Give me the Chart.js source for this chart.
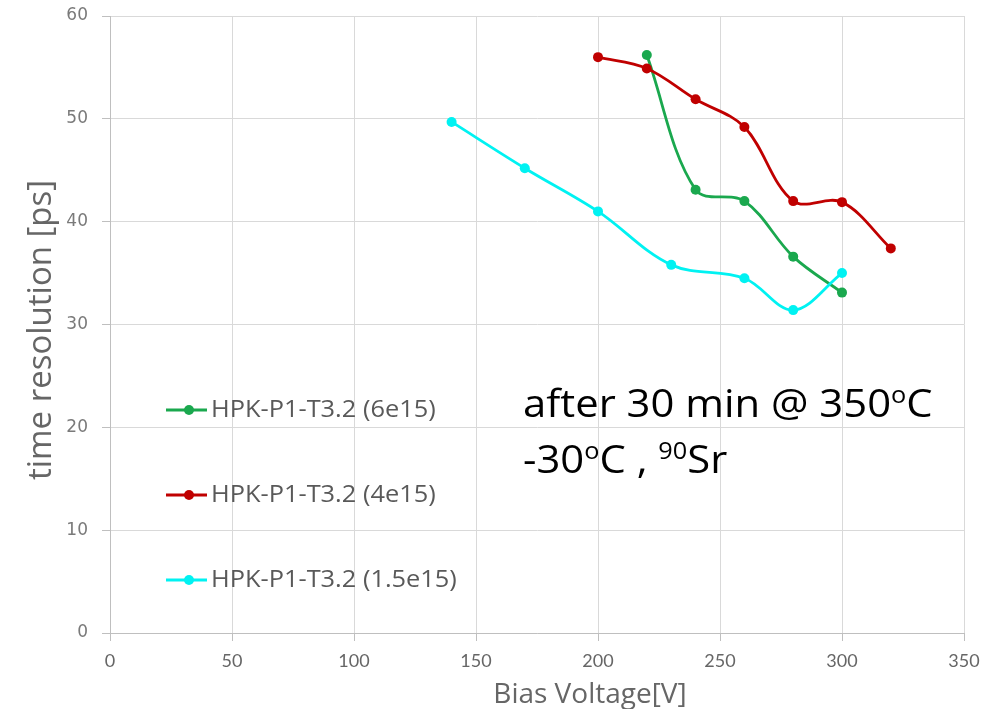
<!DOCTYPE html>
<html>
<head>
<meta charset="utf-8">
<script src="https://cdn.jsdelivr.net/npm/chart.js@4.4.1/dist/chart.umd.min.js"></script>
<style>
  html, body { margin: 0; padding: 0; background: #ffffff; }
</style>
</head>
<body>
<canvas id="chart" width="991" height="709"></canvas>
<script>
// Bias voltage [V] and time resolution [ps] per fluence
const bias6e15 = [220, 240, 260, 280, 300];
const res6e15 = [56.2, 43.1, 42.0, 36.6, 33.1];

const bias4e15 = [200, 220, 240, 260, 280, 300, 320];
const res4e15 = [56.0, 54.9, 51.9, 49.2, 42.0, 41.9, 37.4];

const bias15e14 = [140, 170, 200, 230, 260, 280, 300];
const res15e14 = [49.7, 45.2, 41.0, 35.8, 34.5, 31.4, 35.0];

const seriesNames = ['HPK-P1-T3.2 (6e15)', 'HPK-P1-T3.2 (4e15)', 'HPK-P1-T3.2 (1.5e15)'];
const seriesColors = ['#1aa84e', '#c00000', '#00f2f2'];

const xMin = 0, xMax = 350, xStep = 50;
const yMin = 0, yMax = 60, yStep = 10;

const xTitle = 'Bias Voltage[V]';
const yTitle = 'time resolution [ps]';

const toPoints = (xs, ys) => xs.map((x, i) => ({ x: x, y: ys[i] }));

function makeSet(i, xs, ys, order) {
  return {
    label: seriesNames[i],
    data: toPoints(xs, ys),
    borderColor: seriesColors[i],
    backgroundColor: seriesColors[i],
    borderWidth: 2.8,
    pointRadius: 5,
    pointHoverRadius: 5,
    pointBorderWidth: 0,
    tension: 0.35,
    order: order
  };
}

// text with superscript pieces, e.g. degree "o" and isotope mass number;
// drawn slightly widened horizontally
function drawRich(ctx, parts, x, y, size, family, stretch) {
  ctx.save();
  ctx.translate(x, y);
  ctx.scale(stretch, 1);
  let cx = 0;
  parts.forEach(p => {
    if (p.sup) {
      ctx.font = Math.round(size * 0.6) + 'px ' + family;
      ctx.fillText(p.t, cx, -size * 0.36);
    } else {
      ctx.font = size + 'px ' + family;
      ctx.fillText(p.t, cx, 0);
    }
    cx += ctx.measureText(p.t).width;
  });
  ctx.restore();
}

const overlay = {
  id: 'overlay',
  afterDraw(chart) {
    const ctx = chart.ctx;
    ctx.save();

    // axis titles
    ctx.fillStyle = '#666666';
    ctx.textAlign = 'center';
    ctx.textBaseline = 'alphabetic';
    ctx.font = '28px "Open Sans"';
    ctx.fillText(xTitle, 590, 703);

    ctx.save();
    ctx.translate(51, 330);
    ctx.rotate(-Math.PI / 2);
    ctx.font = '33px "Open Sans"';
    ctx.fillText(yTitle, 0, 0);
    ctx.restore();

    // legend inside the plot
    const legendY = [410, 495, 580];
    ctx.textAlign = 'left';
    ctx.textBaseline = 'middle';
    chart.data.datasets.forEach((ds, i) => {
      const y = legendY[i];
      ctx.strokeStyle = ds.borderColor;
      ctx.lineWidth = 2.8;
      ctx.beginPath();
      ctx.moveTo(166, y);
      ctx.lineTo(207, y);
      ctx.stroke();
      ctx.fillStyle = ds.borderColor;
      ctx.beginPath();
      ctx.arc(189, y, 5, 0, Math.PI * 2);
      ctx.fill();
      ctx.save();
      ctx.translate(211, y);
      ctx.scale(1.08, 1);
      ctx.fillStyle = '#595959';
      ctx.font = '23.5px "Open Sans"';
      ctx.fillText(ds.label, 0, 0);
      ctx.restore();
    });

    // measurement conditions
    ctx.fillStyle = '#000000';
    ctx.textBaseline = 'alphabetic';
    drawRich(ctx, [{ t: 'after 30 min @ 350' }, { t: 'o', sup: true }, { t: 'C' }], 523, 417, 38, '"Open Sans"', 1.1);
    drawRich(ctx, [{ t: '-30' }, { t: 'o', sup: true }, { t: 'C , ' }, { t: '90', sup: true }, { t: 'Sr' }], 523, 473, 38, '"Open Sans"', 1.1);

    ctx.restore();
  }
};

new Chart(document.getElementById('chart'), {
  type: 'line',
  data: {
    datasets: [
      makeSet(0, bias6e15, res6e15, 3),
      makeSet(1, bias4e15, res4e15, 2),
      makeSet(2, bias15e14, res15e14, 1)
    ]
  },
  options: {
    responsive: false,
    animation: false,
    layout: { padding: { left: 0, right: 27, top: 16, bottom: 0 } },
    plugins: {
      legend: { display: false },
      tooltip: { enabled: false }
    },
    scales: {
      x: {
        type: 'linear',
        min: xMin,
        max: xMax,
        ticks: { stepSize: xStep, color: '#666666', font: { family: 'Lato', size: 18 }, padding: 9 },
        grid: { color: '#d9d9d9', tickColor: '#bfbfbf', tickLength: 8 },
        border: { color: '#bfbfbf' },
        afterFit: s => { s.height = 76; }
      },
      y: {
        min: yMin,
        max: yMax,
        ticks: { stepSize: yStep, color: '#7a7a7a', font: { family: 'DejaVu Sans', size: 17 }, padding: 14 },
        grid: { color: '#d9d9d9', tickColor: '#bfbfbf', tickLength: 8 },
        border: { color: '#bfbfbf' },
        afterFit: s => { s.width = 110; s.paddingTop = 0; s.paddingBottom = 0; }
      }
    }
  },
  plugins: [overlay]
});
</script>
</body>
</html>
